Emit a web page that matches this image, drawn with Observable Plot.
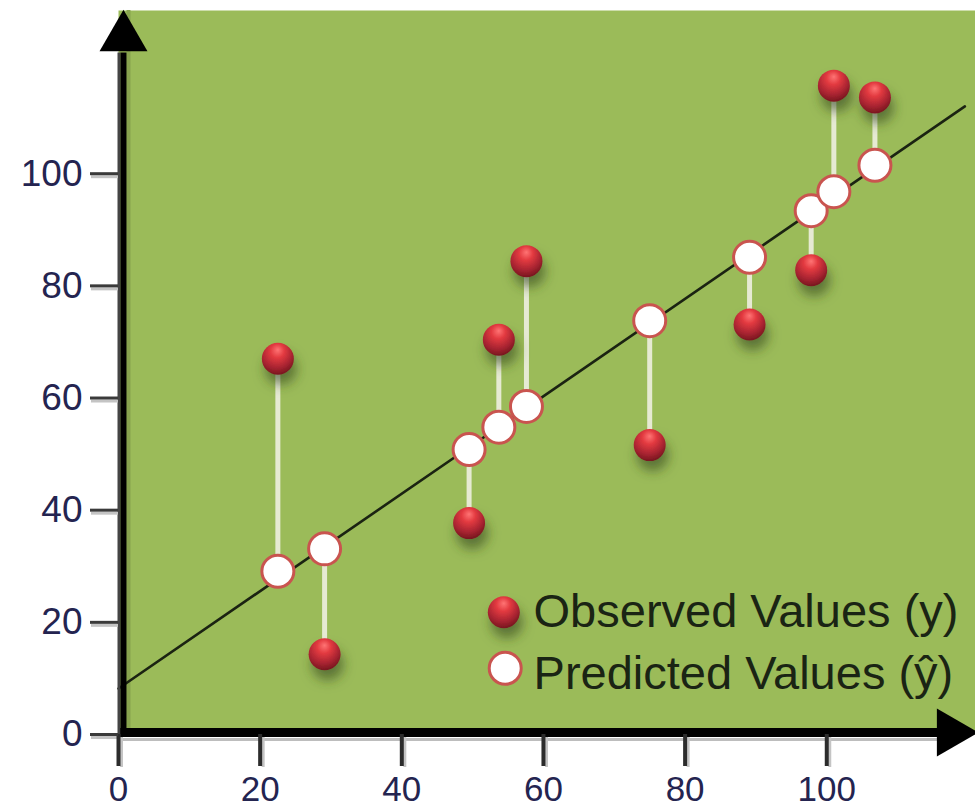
<!DOCTYPE html>
<html>
<head>
<meta charset="utf-8">
<script src="https://cdn.jsdelivr.net/npm/d3@7"></script>
<script src="https://cdn.jsdelivr.net/npm/@observablehq/plot@0.6"></script>
<style>
html, body { margin: 0; padding: 0; background: #ffffff; }
#chart { width: 975px; height: 812px; overflow: hidden; }
</style>
</head>
<body>
<div id="chart"></div>
<script>
// Data
const xValues   = [22.5, 29.1, 49.5, 53.7, 57.6, 75.0, 89.1, 97.8, 101.0, 106.8];
const observed  = [67.0, 14.3, 37.7, 70.4, 84.4, 51.6, 73.1, 82.8, 115.7, 113.6];
const predicted = [29.1, 33.1, 50.8, 54.8, 58.5, 73.8, 85.1, 93.4, 96.8, 101.5];
const fitX = [0, 119.5];
const fitY = [8.2, 112.0];
const xTicks = [0, 20, 40, 60, 80, 100];
const yTicks = [0, 20, 40, 60, 80, 100];
const legendLabels = ["Observed Values (y)", "Predicted Values (ŷ)"];

const pairs = xValues.map((x, i) => ({x, obs: observed[i], pred: predicted[i]}));
const fit = fitX.map((x, i) => ({x, y: fitY[i]}));
const legendRows = legendLabels.map((label, i) => ({label, i}));
const legendY = i => (i === 0 ? 21.9 : 10.8);
const legendMarkY = i => (i === 0 ? 21.8 : 11.8);

const axisText = "#242450";

const svg = Plot.plot({
  width: 975,
  height: 812,
  marginLeft: 118,
  marginRight: 0,
  marginTop: 10,
  marginBottom: 78,
  x: {domain: [0, 121.0], label: null},
  y: {domain: [0, 129.1], label: null},
  style: {fontFamily: "'Liberation Sans', Arial, sans-serif", background: "transparent", overflow: "visible"},
  marks: [
    Plot.frame({fill: "#9bbb59"}),
    // darker inner strip along the y axis
    Plot.ruleX([0], {dx: 10, stroke: "#88a44e", strokeWidth: 4}),
    // residual connectors
    Plot.ruleX(pairs, {x: "x", y1: "obs", y2: "pred", stroke: "#eef0e0", strokeOpacity: 0.9, strokeWidth: 5}),
    // regression line
    Plot.line(fit, {x: "x", y: "y", stroke: "#1b2312", strokeWidth: 2.6}),
    // predicted values
    Plot.dot(pairs, {x: "x", y: "pred", r: 16, fill: "#ffffff", stroke: "#c9544f", strokeWidth: 3}),
    // observed values
    Plot.dot(pairs, {x: "x", y: "obs", r: 16, fill: "url(#sphere)"}),
    // x axis line with shadow
    Plot.ruleY([0], {x1: 0, x2: 117.5, dy: 5, stroke: "#bdbdbd", strokeWidth: 3}),
    Plot.ruleY([0], {x1: 0, x2: 117.5, dy: -2, stroke: "#000000", strokeWidth: 9}),
    // y axis line
    Plot.ruleX([0], {y1: -0.5, y2: 121.5, dx: 0.5, stroke: "#444444", strokeWidth: 3}),
    Plot.ruleX([0], {y1: -0.5, y2: 121.5, dx: 5, stroke: "#000000", strokeWidth: 6}),
    // arrow heads
    Plot.dot([0], {x: 0, y: 124.3, dx: 5, symbol: "triangle", r: 17.8, fill: "#000000"}),
    Plot.dot([0], {x: 117.5, y: 0, dy: -2, symbol: "triangle", r: 17.8, fill: "#000000", rotate: 90}),
    // tick shadows
    Plot.axisX(xTicks, {tickSize: 30, dx: 3, dy: 3, stroke: "#c4c4c4", strokeWidth: 3, fill: "none", label: null, tickFormat: () => ""}),
    Plot.axisY(yTicks, {tickSize: 27, dy: 3, stroke: "#c4c4c4", strokeWidth: 3, fill: "none", label: null, tickFormat: () => ""}),
    // axes
    Plot.axisX(xTicks, {tickSize: 32, tickPadding: 10, stroke: "#2c2c2c", strokeWidth: 4, fill: axisText, fontSize: 35, label: null}),
    Plot.axisY(yTicks, {tickSize: 28, tickPadding: 8, stroke: "#3a3a3a", strokeWidth: 3, fill: axisText, fontSize: 37, label: null}),
    // legend
    Plot.dot(legendRows.filter(d => d.i === 0), {x: 54.4, y: d => legendMarkY(d.i), r: 16, fill: "url(#sphere)"}),
    Plot.dot(legendRows.filter(d => d.i === 1), {x: 54.6, y: d => legendMarkY(d.i), r: 16, fill: "#ffffff", stroke: "#c9544f", strokeWidth: 3}),
    Plot.text(legendRows, {x: 58.6, y: d => legendY(d.i), text: d => d.label, textAnchor: "start", fontSize: 47, fill: "#1a2414"})
  ]
});

// gradient + shadow definitions for the observed spheres
const root = d3.select(svg);
const defs = root.insert("defs", ":first-child");
const grad = defs.append("radialGradient")
  .attr("id", "sphere").attr("cx", "0.45").attr("cy", "0.32").attr("r", "0.68")
  .attr("fx", "0.5").attr("fy", "0.22");
[["0", "#ff7474"], ["0.32", "#e33a40"], ["0.72", "#a82431"], ["1", "#78161f"]].forEach(([o, c]) =>
  grad.append("stop").attr("offset", o).attr("stop-color", c));
const filt = defs.append("filter").attr("id", "shadow")
  .attr("x", "-100%").attr("y", "-100%").attr("width", "300%").attr("height", "300%");
filt.append("feDropShadow").attr("dx", 3).attr("dy", 10).attr("stdDeviation", 6)
  .attr("flood-color", "#34451a").attr("flood-opacity", 0.6);
root.selectAll('g[fill="url(#sphere)"]').attr("filter", "url(#shadow)");

document.getElementById("chart").appendChild(svg);
</script>
</body>
</html>
